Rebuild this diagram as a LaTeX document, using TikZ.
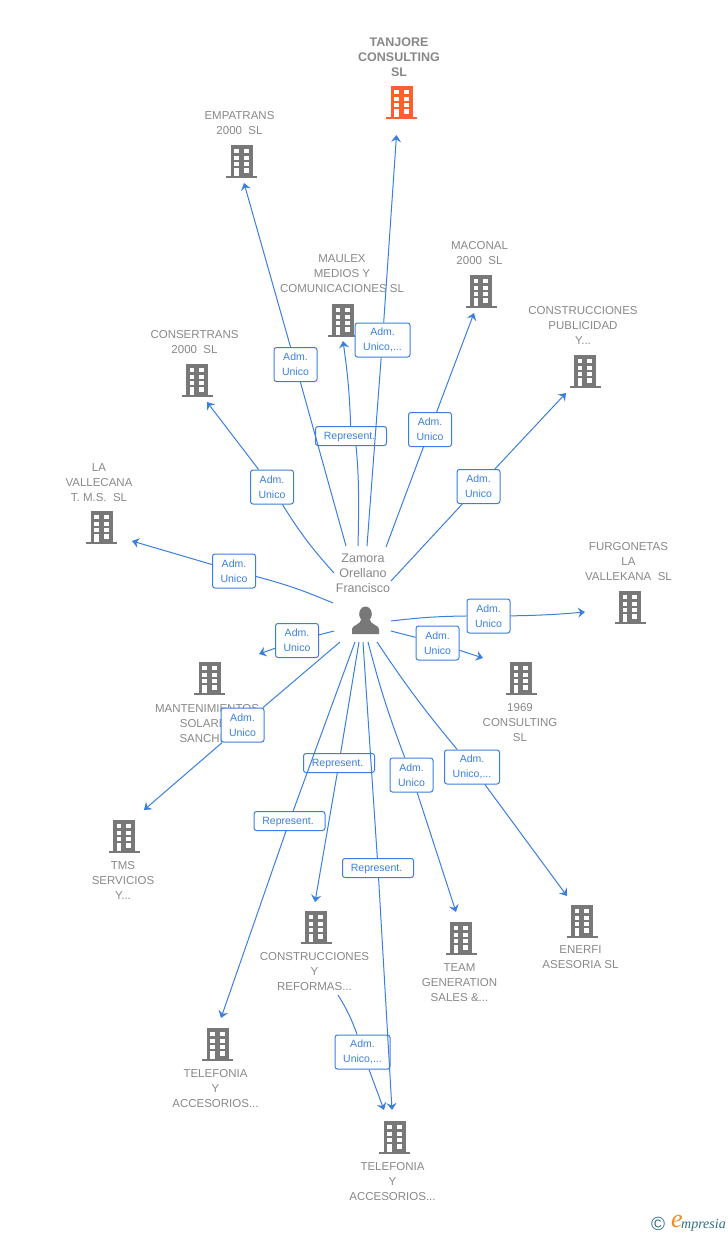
\documentclass[tikz,border=0pt]{standalone}
\usepackage{fontspec}
\setmainfont{Liberation Sans}
\newfontfamily\logofont{Liberation Serif}
\usetikzlibrary{arrows.meta}
\definecolor{linkcolor}{HTML}{3B7FDE}
\definecolor{iconcolor}{HTML}{787878}
\definecolor{textcolor}{HTML}{888888}
\definecolor{maincolor}{HTML}{FF5E2E}
\definecolor{logoteal}{HTML}{2F6F86}
\definecolor{logoorange}{HTML}{F08A24}
\tikzset{
 bldg/.pic={
  \fill [pic actions] (-11,-16.5) rectangle (11,14.5);
  \fill [pic actions] (-15.5,14.5) rectangle (15.5,16.5);
  \foreach \wy in {-12.5,-5.5,0.5} {
   \fill [white] (-7.5,\wy) rectangle (-2.7,\wy+4);
   \fill [white] (2.2,\wy) rectangle (7.2,\wy+4);
  }
  \fill [white] (-7.5,6.8) rectangle (-2.7,14.5);
  \fill [white] (2.2,6.8) rectangle (7.2,11.5);
 },
 man/.pic={
  \fill [pic actions] (0,-6) ellipse (6.3 and 7.5);
  \fill [pic actions] (-13.5,14) -- (-13.5,9) .. controls (-13.5,5) and (-5,5) .. (-4,-1) -- (4,-1) .. controls (5,5) and (13.5,5) .. (13.5,9) -- (13.5,14) -- cycle;
 },
 company/.style={text=textcolor,align=center,inner sep=0pt,yshift=-0.5pt,font=\fontsize{11.5}{15}\selectfont},
 person/.style={company,font=\fontsize{12.5}{15}\selectfont},
 admbox/.style={draw=linkcolor,fill=white,rounded corners=2.5pt,line width=1pt,text=linkcolor,align=center,inner sep=0pt,
  minimum width=43pt,minimum height=34pt,font=\fontsize{10.5}{15}\selectfont,execute at begin node={\rule{0pt}{10pt}}},
 admwide/.style={admbox,minimum width=55pt},
 repbox/.style={admbox,minimum width=71pt,minimum height=19pt},
 plain/.style={draw=linkcolor,line width=1pt},
 link/.style={plain,-{Stealth[length=7pt,width=10pt,inset=2.5pt]}},
}
\begin{document}
\begin{tikzpicture}[x=1pt,y=-1pt]
 \useasboundingbox (0,0) rectangle (728,1235);
 % companies
 \pic [fill=maincolor] at (401.5,102.5) {bldg};
 \pic [fill=iconcolor] at (241.5,161.5) {bldg};
 \pic [fill=iconcolor] at (343,320) {bldg};
 \pic [fill=iconcolor] at (481,291.5) {bldg};
 \pic [fill=iconcolor] at (585,371.5) {bldg};
 \pic [fill=iconcolor] at (197,380) {bldg};
 \pic [fill=iconcolor] at (101.5,527) {bldg};
 \pic [fill=iconcolor] at (630,607) {bldg};
 \pic [fill=iconcolor] at (209.5,678) {bldg};
 \pic [fill=iconcolor] at (521,678) {bldg};
 \pic [fill=iconcolor] at (124,836.5) {bldg};
 \pic [fill=iconcolor] at (582,921.5) {bldg};
 \pic [fill=iconcolor] at (461,938) {bldg};
 \pic [fill=iconcolor] at (316,927) {bldg};
 \pic [fill=iconcolor] at (217.5,1044) {bldg};
 \pic [fill=iconcolor] at (394.5,1137) {bldg};
 \node [company,font=\fontsize{12.5}{15}\selectfont\bfseries] (tanjore) at (399,57) {TANJORE\\CONSULTING\\SL};
 \node [company] (empatrans) at (239.5,123) {EMPATRANS\\2000\ \ SL};
 \node [company] (maulex) at (342,273) {MAULEX\\MEDIOS Y\\COMUNICACIONES SL};
 \node [company] (maconal) at (479.5,253) {MACONAL\\2000\ \ SL};
 \node [company] (publicidad) at (583,325) {CONSTRUCCIONES\\PUBLICIDAD\\Y...};
 \node [company] (consertrans) at (194.5,342) {CONSERTRANS\\2000\ \ SL};
 \node [company] (vallecana) at (99,482) {LA\\VALLECANA\\T. M.S.\ \ SL};
 \node [company] (furgonetas) at (628.5,561) {FURGONETAS\\LA\\VALLEKANA\ \ SL};
 \node [company] (solares) at (207,723) {MANTENIMIENTOS\\SOLARES\\SANCHEZ};
 \node [company] (consulting) at (520,722) {1969\\CONSULTING\\SL};
 \node [company] (tms) at (123,880) {TMS\\SERVICIOS\\Y...};
 \node [company] (enerfi) at (580.5,957) {ENERFI\\ASESORIA SL};
 \node [company] (team) at (459.5,982) {TEAM\\GENERATION\\SALES \&...};
 \node [company] (reformas) at (314.5,971) {CONSTRUCCIONES\\Y\\REFORMAS...};
 \node [company] (telefonia) at (215.5,1088) {TELEFONIA\\Y\\ACCESORIOS...};
 \node [company] (accesorios) at (392.5,1181) {TELEFONIA\\Y\\ACCESORIOS...};
 % person
 \pic [fill=iconcolor] at (365.5,620) {man};
 \node [person] (zamora) at (363,573) {Zamora\\Orellano\\Francisco};
 % arrow ends
 \coordinate (t1) at (396.5,135);
 \coordinate (t2) at (244,183);
 \coordinate (t3) at (343,341);
 \coordinate (t4) at (474,313);
 \coordinate (t5) at (566,393);
 \coordinate (t6) at (207,402);
 \coordinate (t7) at (132,541);
 \coordinate (t8) at (585,612);
 \coordinate (t9) at (483,658);
 \coordinate (t10) at (259,654);
 \coordinate (t11) at (144,810);
 \coordinate (t12) at (567,896);
 \coordinate (t13) at (456,912);
 \coordinate (t14) at (315,902);
 \coordinate (t15) at (221,1018);
 \coordinate (t16) at (392,1110);
 \coordinate (t17) at (384,1110);
 % line starts
 \coordinate (s1) at (367,546);
 \coordinate (s2) at (346,546);
 \coordinate (s3) at (358,546);
 \coordinate (s4) at (386,547);
 \coordinate (s5) at (391,581);
 \coordinate (s6) at (334,573);
 \coordinate (s7) at (333,603);
 \coordinate (s8) at (391,621);
 \coordinate (s9) at (391,631);
 \coordinate (s10) at (334,631);
 \coordinate (s11) at (340,642);
 \coordinate (s12) at (377,642);
 \coordinate (s13) at (368,642);
 \coordinate (s14) at (359,642);
 \coordinate (s15) at (355,642);
 \coordinate (s16) at (363,642);
 \coordinate (s17) at (338,995);
 % labels of the lines
 \node [admwide] (a1) at (382.5,340) {Adm.\ \\Unico,...};
 \node [admbox] (a2) at (295.5,364.5) {Adm.\ \\Unico};
 \node [repbox] (a3) at (351,436) {Represent.\ };
 \node [admbox] (a4) at (430,429.5) {Adm.\ \\Unico};
 \node [admbox] (a5) at (478.5,486.5) {Adm.\ \\Unico};
 \node [admbox] (a6) at (272,487) {Adm.\ \\Unico};
 \node [admbox] (a7) at (234,571) {Adm.\ \\Unico};
 \node [admbox] (a8) at (488.5,616) {Adm.\ \\Unico};
 \node [admbox] (a9) at (437.5,643) {Adm.\ \\Unico};
 \node [admbox] (a10) at (297,640.5) {Adm.\ \\Unico};
 \node [admbox] (a11) at (242.5,725) {Adm.\ \\Unico};
 \node [admwide] (a12) at (472,767) {Adm.\ \\Unico,...};
 \node [admbox] (a13) at (411.5,775) {Adm.\ \\Unico};
 \node [repbox] (a14) at (339,763) {Represent.\ };
 \node [repbox] (a15) at (289.5,821) {Represent.\ };
 \node [repbox] (a16) at (378,868) {Represent.\ };
 \node [admwide] (a17) at (362.5,1052) {Adm.\ \\Unico,...};
 % lines
 \draw [plain] (s1) -- (a1); \draw [link] (a1) -- (t1);
 \draw [plain] (s2) -- (a2); \draw [link] (a2) -- (t2);
 \draw [plain] (s3) .. controls (359,505) and (359,475) .. (a3.south -| 356,0); \draw [link] (a3) to [bend right=3] (t3);
 \draw [plain] (s4) -- (a4); \draw [link] (a4) -- (t4);
 \draw [plain] (s5) -- (a5); \draw [link] (a5) -- (t5);
 \draw [plain] (s6) to [bend left=5] (a6); \draw [link] (a6) -- (t6);
 \draw [plain] (s7) to [bend right=4] (a7); \draw [link] (a7) -- (t7);
 \draw [plain] (s8) to [bend left=3] (a8); \draw [link] (a8) to [bend right=2] (t8);
 \draw [plain] (s9) -- (a9); \draw [link] (a9) -- (t9);
 \draw [plain] (s10) -- (a10); \draw [link] (a10) -- (t10);
 \draw [plain] (s11) -- (a11); \draw [link] (a11) -- (t11);
 \draw [plain] (s12) to [bend right=3] (a12); \draw [link] (a12) -- (t12);
 \draw [plain] (s13) to [bend right=3] (a13); \draw [link] (a13) -- (t13);
 \draw [plain] (s14) -- (a14); \draw [link] (a14) -- (t14);
 \draw [plain] (s15) -- (a15); \draw [link] (a15) -- (t15);
 \draw [plain] (s16) -- (a16); \draw [link] (a16) -- (t16);
 \draw [plain] (s17) to [bend left=6] (a17); \draw [link] (a17) -- (t17);
 % logo
 \node [inner sep=0pt,text=logoteal,font=\fontsize{19}{19}\selectfont] (copy) at (658,1224) {\char"00A9};
 \node [inner sep=0pt,text=logoorange,font=\logofont\itshape\fontsize{26}{26}\selectfont] (logoe) at (677,1221) {e};
 \node [inner sep=0pt,text=logoteal,anchor=west,font=\logofont\itshape\fontsize{14}{15}\selectfont] (logotext) at (681,1225) {mpresia};
\end{tikzpicture}
\end{document}
